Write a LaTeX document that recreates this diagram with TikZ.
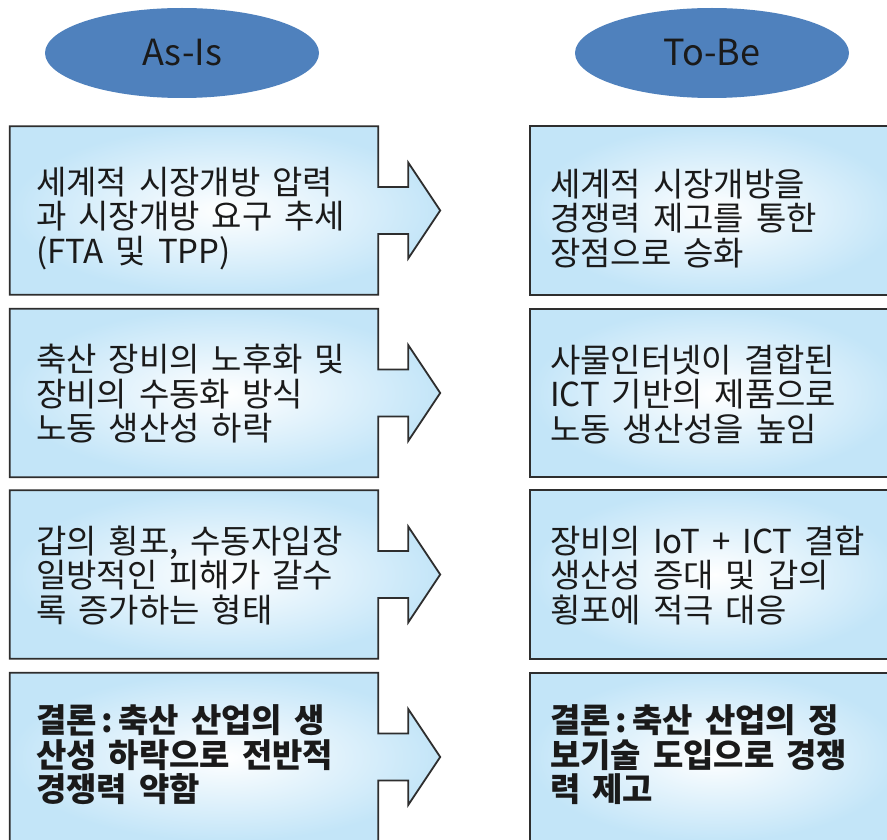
\documentclass[tikz,border=0pt]{standalone}
\usepackage{fontspec}
\setmainfont{Noto Sans CJK KR}
\usetikzlibrary{calc,backgrounds,shapes.geometric}
\definecolor{ellblue}{HTML}{4F81BD}
\definecolor{boxblue}{HTML}{C3E5F8}
\definecolor{edge}{HTML}{2E2E2E}
\definecolor{ink}{HTML}{1A1A1A}
\newcommand\krsp{\spaceskip=12pt plus 1pt\relax}
\newcommand\krfont{\fontsize{33}{34.5}\selectfont\krsp}
\newcommand\colonsep{\hspace{5pt}:\hspace{5pt}}
\tikzset{
  head/.style={ellipse, fill=ellblue, minimum width=274, minimum height=90, inner sep=0,
    font={\fontsize{36}{40}\selectfont}, text=ink},
  boxarea/.style={rectangle, minimum height=168, inner sep=0},
  txt/.style={anchor=west, align=left, inner sep=0, text=ink, font={\krfont}},
  boldtxt/.style={txt, font={\krfont\bfseries}},
  boxshape/.style={draw=edge, line width=1.8, inner color=white, outer color=boxblue},
}
\begin{document}
\begin{tikzpicture}[x=1pt,y=-1pt]
\useasboundingbox (0,0) rectangle (887,840);
% headers
\node[head] (asis) at (182,53) {As-Is};
\node[head] (tobe) at (712,53) {To-Be};
% box areas
\foreach \i/\c in {1/210.5,2/393,3/574.5,4/757}{
  \node[boxarea, minimum width=368] (L\i) at (194,\c) {};
  \node[boxarea, minimum width=370] (R\i) at (715,\c) {};
}
% texts
\node[txt] (L1t) at ($(L1.west)+(26,8)$) {세계적 시장개방 압력\\과 시장개방 요구 추세\\(FTA 및 TPP)};
\node[txt] (L2t) at ($(L2.west)+(26,1)$) {축산 장비의 노후화 및\\장비의 수동화 방식\\노동 생산성 하락};
\node[txt] (L3t) at ($(L3.west)+(26,1)$) {갑의 횡포, 수동자입장\\일방적인 피해가 갈수\\록 증가하는 형태};
\node[boldtxt] (L4t) at ($(L4.west)+(26,-2)$) {결론\colonsep 축산 산업의 생\\산성 하락으로 전반적\\경쟁력 약함};
\node[txt] (R1t) at ($(R1.west)+(20,8)$) {세계적 시장개방을\\경쟁력 제고를 통한\\장점으로 승화};
\node[txt] (R2t) at ($(R2.west)+(20,1)$) {사물인터넷이 결합된\\ICT 기반의 제품으로\\노동 생산성을 높임};
\node[txt] (R3t) at ($(R3.west)+(20,1)$) {장비의 IoT + ICT 결합\\생산성 증대 및 갑의\\횡포에 적극 대응};
\node[boldtxt] (R4t) at ($(R4.west)+(20,-2)$) {결론\colonsep 축산 산업의 정\\보기술 도입으로 경쟁\\력 제고};
% shapes
\begin{scope}[on background layer]
\fill[white] (0,0) rectangle (887,840);
\foreach \i in {1,2,3,4}{
  \path[boxshape] (L\i.north west) -- (L\i.north east)
    -- ($(L\i.east)+(0,-23.5)$) -- ($(L\i.east)+(30,-23.5)$)
    -- ($(L\i.east)+(30,-48)$) -- ($(L\i.east)+(62,0)$)
    -- ($(L\i.east)+(30,48)$) -- ($(L\i.east)+(30,23.5)$)
    -- ($(L\i.east)+(0,23.5)$) -- (L\i.south east) -- (L\i.south west) -- cycle;
  \path[boxshape] (R\i.north west) rectangle (R\i.south east);
}
\end{scope}
\end{tikzpicture}
\end{document}
